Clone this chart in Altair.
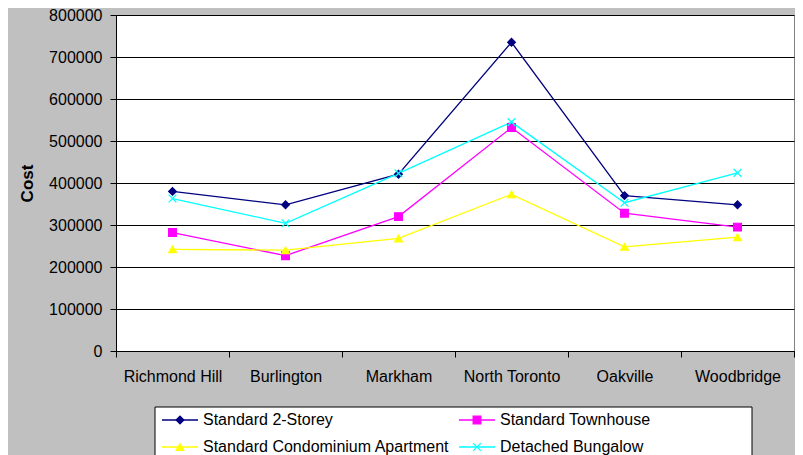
import altair as alt
import pandas as pd

locations = ["Richmond Hill", "Burlington", "Markham", "North Toronto", "Oakville", "Woodbridge"]
series_names = ["Standard 2-Storey", "Standard Townhouse",
                "Standard Condominium Apartment", "Detached Bungalow"]
storey = [380000, 348000, 421000, 735000, 370000, 348000]
townhouse = [282000, 227000, 320000, 532000, 328000, 295000]
condo = [242000, 240000, 268000, 373000, 248000, 271000]
bungalow = [363000, 304000, 423000, 545000, 353000, 424000]
y_ticks = [0, 100000, 200000, 300000, 400000, 500000, 600000, 700000, 800000]

colors = ["#000080", "#FF00FF", "#FFFF00", "#00FFFF"]
shapes = ["diamond", "square", "triangle-up", "M-1,-1L1,1M-1,1L1,-1"]
FONT = "Liberation Sans"

rows = []
for name, vals in zip(series_names, [storey, townhouse, condo, bungalow]):
    for loc, v in zip(locations, vals):
        rows.append({"Location": loc, "Series": name, "Cost": v})
df = pd.DataFrame(rows)

x_enc = alt.X("Location:N", sort=locations,
              scale=alt.Scale(type="band", paddingInner=0, paddingOuter=0),
              axis=alt.Axis(title=None, labelAngle=0, tickBand="extent", tickSize=6,
                            labelPadding=11, labelFontSize=16, labelFont=FONT,
                            labelColor="black", domainColor="black", tickColor="black",
                            grid=False))
y_enc = alt.Y("Cost:Q", scale=alt.Scale(domain=[0, 800000]),
              axis=alt.Axis(values=y_ticks, format="d", title="Cost", tickSize=6,
                            labelPadding=8, labelFontSize=16, labelFont=FONT,
                            labelColor="black", titleFont=FONT, titleFontSize=17,
                            titleFontWeight="bold", titleColor="black",
                            titleX=-80, titleY=168, titleAngle=270,
                            domainColor="black", tickColor="black",
                            gridColor="black", gridWidth=1, gridOpacity=1))
sdom = alt.Scale(domain=series_names, range=colors)

lines = alt.Chart(df).mark_line(strokeWidth=1.3).encode(
    x=x_enc, y=y_enc,
    color=alt.Color("Series:N", scale=sdom, legend=None),
    detail="Series:N",
)
points = alt.Chart(df).mark_point(size=60, strokeWidth=1.2, opacity=1).encode(
    x=x_enc, y=y_enc,
    fill=alt.Fill("Series:N", scale=sdom, legend=None),
    stroke=alt.Stroke("Series:N", scale=sdom, legend=None),
    shape=alt.Shape("Series:N", scale=alt.Scale(domain=series_names, range=shapes), legend=None),
)

one = pd.DataFrame({"k": [0]})
box = alt.Chart(one).mark_rect(fill="white", stroke="black", strokeWidth=1).encode(
    x=alt.value(39), x2=alt.value(636), y=alt.value(392), y2=alt.value(450))

legend_layers = [box]
# legend slot positions (col x offsets, row y offsets) - layout only
slot_x = [46, 343, 46, 343]
slot_y = [405, 405, 432, 432]
for i, name in enumerate(series_names):
    lx, ly = slot_x[i], slot_y[i]
    legend_layers.append(alt.Chart(one).mark_rule(color=colors[i], strokeWidth=1.3).encode(
        x=alt.value(lx), x2=alt.value(lx + 36), y=alt.value(ly), y2=alt.value(ly)))
    legend_layers.append(alt.Chart(one).mark_point(
        shape=shapes[i], size=60, fill=colors[i], stroke=colors[i], strokeWidth=1.2,
        opacity=1).encode(x=alt.value(lx + 18), y=alt.value(ly)))
    legend_layers.append(alt.Chart(one).mark_text(
        text=name, align="left", baseline="middle", fontSize=16, font=FONT,
        color="black").encode(x=alt.value(lx + 41), y=alt.value(ly)))

chart = alt.layer(lines, points, *legend_layers).properties(
    width=678, height=336,
    padding={"left": 108, "top": 7, "right": 1, "bottom": 104},
    autosize=alt.AutoSizeParams(type="none"),
    background="#c0c0c0",
).configure_view(stroke="#808080", strokeWidth=1, fill="white")

chart.save("out.html", embed_options={"renderer": "svg", "actions": False})
